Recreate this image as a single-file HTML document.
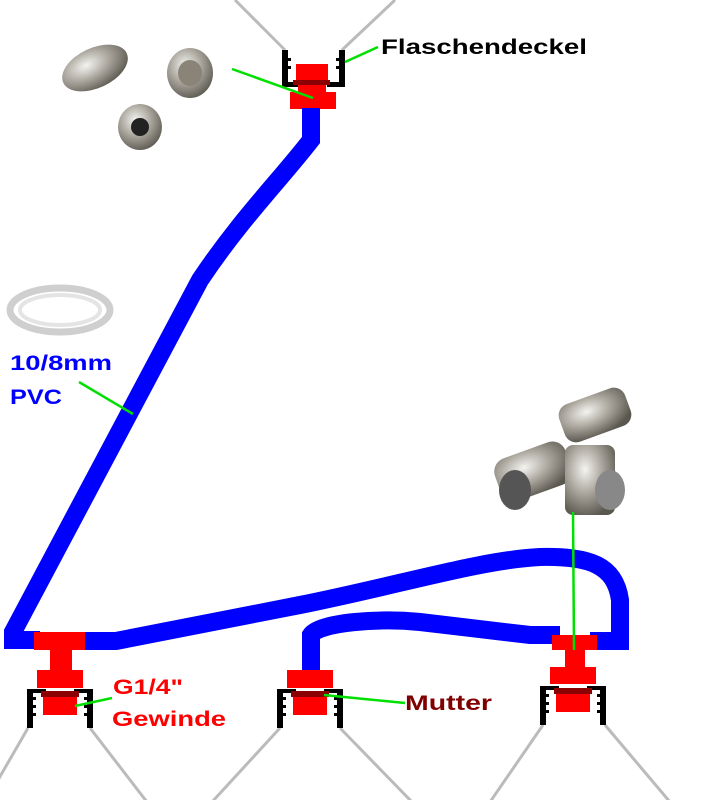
<!DOCTYPE html>
<html><head><style>
html,body{margin:0;padding:0;background:#fff;}
svg{display:block}
</style></head><body>
<svg width="724" height="800" viewBox="0 0 724 800" xmlns="http://www.w3.org/2000/svg">
<defs>
<radialGradient id="met" cx="40%" cy="35%" r="70%">
<stop offset="0" stop-color="#f4f4f0"/><stop offset="0.5" stop-color="#a9a59c"/><stop offset="1" stop-color="#5a574f"/>
</radialGradient>
<g id="capB">
<path d="M-33 0 H-14 V4 H-27 V39 H-33 Z M33 0 H14 V4 H27 V39 H33 Z" fill="#000"/>
<rect x="-27" y="8" width="3" height="3" fill="#000"/><rect x="-27" y="16" width="3" height="3" fill="#000"/><rect x="-27" y="24" width="3" height="3" fill="#000"/>
<rect x="24" y="8" width="3" height="3" fill="#000"/><rect x="24" y="16" width="3" height="3" fill="#000"/><rect x="24" y="24" width="3" height="3" fill="#000"/>
<rect x="-17" y="4" width="34" height="22" fill="#f00"/>
<rect x="-19" y="2" width="38" height="6" fill="#8b0000"/>
</g>
</defs>
<g stroke="#bbb" stroke-width="3" fill="none">
<line x1="285" y1="50" x2="235" y2="0"/><line x1="342" y1="50" x2="395" y2="0"/>
<line x1="28" y1="728" x2="-2" y2="780"/><line x1="90" y1="728" x2="147" y2="802"/>
<line x1="280" y1="728" x2="212" y2="802"/><line x1="340" y1="728" x2="412" y2="802"/>
<line x1="543" y1="725" x2="490" y2="802"/><line x1="605" y1="725" x2="670" y2="802"/>
</g>
<path d="M282 50 H288 V82 H300 V87 H282 Z M345 50 H339 V82 H327 V87 H345 Z" fill="#000"/>
<rect x="288" y="58" width="3" height="3"/><rect x="288" y="66" width="3" height="3"/><rect x="336" y="58" width="3" height="3"/><rect x="336" y="66" width="3" height="3"/>
<rect x="296" y="64" width="32" height="18" fill="#f00"/>
<rect x="293" y="80" width="37" height="5" fill="#8b0000"/>
<rect x="298" y="85" width="28" height="8" fill="#f00"/>
<rect x="290" y="92" width="46" height="17" fill="#f00"/>
<g fill="none" stroke="#0000ff" stroke-width="18" stroke-linejoin="miter">
<path d="M311 108 V140 C280 180 240 220 200 280 L13 632 V640 H40"/>
<path d="M80 641 H116 L300 605 C400 585 480 560 540 557 C590 556 615 565 620 600 V641 H590"/>
<path d="M311 672 V635 C320 622 380 618 420 622 L530 635 H560"/>
</g>
<rect x="34" y="632" width="51" height="18" fill="#f00"/>
<rect x="50" y="650" width="22" height="22" fill="#f00"/>
<rect x="37" y="670" width="46" height="18" fill="#f00"/>
<use href="#capB" x="60" y="689"/>
<rect x="287" y="670" width="46" height="18" fill="#f00"/>
<use href="#capB" x="310" y="689"/>
<rect x="552" y="635" width="45" height="15" fill="#f00"/>
<rect x="565" y="650" width="20" height="18" fill="#f00"/>
<rect x="550" y="667" width="46" height="17" fill="#f00"/>
<use href="#capB" x="573" y="686"/>
<ellipse cx="95" cy="68" rx="35" ry="20" fill="url(#met)" transform="rotate(-25 95 68)"/>
<ellipse cx="190" cy="73" rx="23" ry="25" fill="url(#met)"/>
<ellipse cx="190" cy="73" rx="12" ry="13" fill="#8a8478"/>
<ellipse cx="140" cy="127" rx="22" ry="23" fill="url(#met)"/>
<circle cx="140" cy="127" r="9" fill="#222"/>
<ellipse cx="60" cy="310" rx="50" ry="22" fill="none" stroke="#cfcfcf" stroke-width="7"/>
<ellipse cx="60" cy="310" rx="40" ry="15" fill="none" stroke="#e4e4e4" stroke-width="4"/>
<rect x="560" y="395" width="70" height="40" rx="12" fill="url(#met)" transform="rotate(-20 595 415)"/>
<rect x="495" y="450" width="75" height="45" rx="14" fill="url(#met)" transform="rotate(-20 530 470)"/>
<rect x="565" y="445" width="50" height="70" rx="8" fill="url(#met)"/>
<ellipse cx="515" cy="490" rx="16" ry="20" fill="#555"/>
<ellipse cx="610" cy="490" rx="15" ry="20" fill="#888"/>
<g stroke="#00e000" stroke-width="2.5">
<line x1="232" y1="69" x2="313" y2="98"/>
<line x1="345" y1="62" x2="378" y2="47"/>
<line x1="79" y1="382" x2="133" y2="414"/>
<line x1="75" y1="706" x2="112" y2="698"/>
<line x1="324" y1="695" x2="405" y2="703"/>
<line x1="573" y1="512" x2="574" y2="650"/>
</g>
<g font-family="Liberation Sans, sans-serif" font-weight="bold" font-size="21">
<text x="381" y="54" fill="#000" textLength="206" lengthAdjust="spacingAndGlyphs">Flaschendeckel</text>
<text x="10" y="370" fill="#0000ff" textLength="102" lengthAdjust="spacingAndGlyphs">10/8mm</text>
<text x="10" y="404" fill="#0000ff" textLength="52" lengthAdjust="spacingAndGlyphs">PVC</text>
<text x="113" y="694" fill="#f00" textLength="70" lengthAdjust="spacingAndGlyphs">G1/4"</text>
<text x="112" y="726" fill="#f00" textLength="114" lengthAdjust="spacingAndGlyphs">Gewinde</text>
<text x="405" y="710" fill="#800000" textLength="87" lengthAdjust="spacingAndGlyphs">Mutter</text>
</g>
</svg>
</body></html>
